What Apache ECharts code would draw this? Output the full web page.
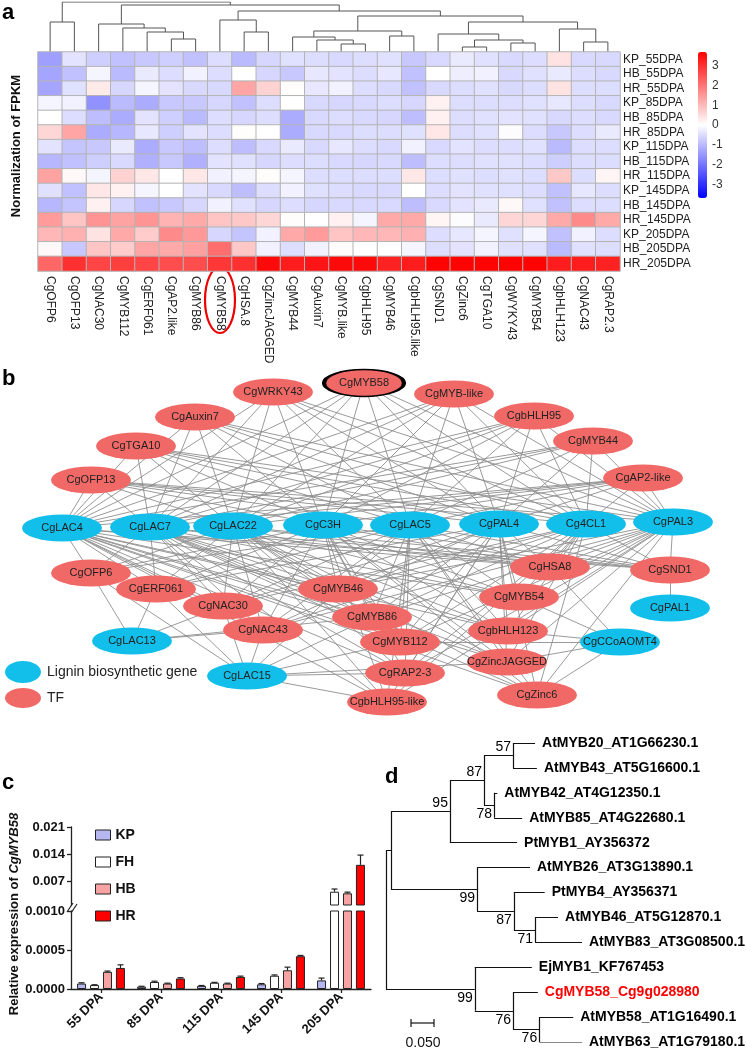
<!DOCTYPE html>
<html>
<head>
<meta charset="utf-8">
<script src="https://cdn.jsdelivr.net/npm/echarts@6/dist/echarts.min.js"></script>
<style>
  html, body { margin: 0; padding: 0; background: #fff; }
  #main { width: 746px; height: 1051px; }
</style>
</head>
<body>
<div id="main"></div>
<script>
var FONT = '"Liberation Sans", Arial, sans-serif';

// ---------- panel a: heatmap ----------
var genes = ['CgOFP6', 'CgOFP13', 'CgNAC30', 'CgMYB112', 'CgERF061', 'CgAP2.like', 'CgMYB86', 'CgMYB58',
  'CgHSA.8', 'CgZincJAGGED', 'CgMYB44', 'CgAuxin7', 'CgMYB.like', 'CgbHLH95', 'CgMYB46', 'CgbHLH95.like',
  'CgSND1', 'CgZinc6', 'CgTGA10', 'CgWYKY43', 'CgMYB54', 'CgbHLH123', 'CgNAC43', 'CgRAP2.3'];
var samples = ['KP_55DPA', 'HB_55DPA', 'HR_55DPA', 'KP_85DPA', 'HB_85DPA', 'HR_85DPA', 'KP_115DPA', 'HB_115DPA',
  'HR_115DPA', 'KP_145DPA', 'HB_145DPA', 'HR_145DPA', 'KP_205DPA', 'HB_205DPA', 'HR_205DPA'];
var fpkmZ = [
  [-1.4, -0.4, -0.7, -0.9, -0.8, -0.7, -0.9, -0.5, -1.0, -0.6, -0.45, -0.5, -0.55, -0.5, -0.45, -0.8, -0.55, -0.3, -0.45, -0.55, -0.5, 0.4, -0.55, -0.55],
  [-1.3, -0.9, -0.15, -1.0, -0.3, -0.5, -0.2, -0.5, 0, -0.6, -0.8, -0.35, -0.4, -0.5, -0.35, -0.9, 0, -0.25, -0.2, -0.55, -0.45, -0.3, -0.5, -0.55],
  [-1.3, -0.45, 0.3, -0.6, -0.15, -0.4, -0.55, -0.55, 1.3, 0.65, 0.05, -0.35, -0.2, -0.5, -0.55, -0.9, -0.55, -0.5, -0.45, -0.55, -0.5, 0.4, -0.5, -0.5],
  [-0.15, -0.2, -1.6, -1.0, -1.2, -0.8, -0.8, -0.6, -0.9, -0.5, 0, -0.55, -0.6, -0.55, -0.5, -0.6, 0.2, -0.5, -0.5, -0.5, -0.45, -0.35, -0.5, -0.55],
  [0, -0.5, -0.95, -1.2, -0.4, -0.7, -1.0, -0.5, -0.6, -0.5, -1.2, -0.55, -0.5, -0.55, -0.6, -0.95, 0.2, -0.5, -0.45, -0.4, -0.45, -0.55, -0.5, -0.55],
  [0.6, 1.3, -1.2, -1.05, -0.35, -0.7, -0.4, -0.5, 0.05, 0, -1.2, -0.55, -0.55, -0.5, -0.5, -0.45, 0.35, -0.5, -0.45, -0.05, -0.5, -0.8, -0.5, -0.3],
  [-0.4, -0.85, -0.8, -0.3, -1.2, -0.8, -0.95, -0.5, -0.95, -0.55, -0.3, -0.55, -0.35, -0.5, -0.55, -0.2, -0.55, -0.4, -0.5, -0.5, -0.45, -1.0, -0.5, -0.5],
  [-1.05, -0.9, -0.7, -0.55, -1.15, -0.8, -1.15, -0.4, -0.45, -0.6, -0.5, -0.5, -0.55, -0.6, -0.55, -0.95, -0.5, -0.5, -0.45, -0.45, -0.5, -0.7, -0.5, -0.5],
  [1.35, 0.1, -0.15, 0.65, 0.35, 0, 0.35, -0.2, -0.15, 0.05, -0.15, -0.5, -0.5, -0.5, -0.5, 0.35, -0.5, -0.45, -0.5, -0.45, -0.5, 0.8, -0.5, 0.15],
  [-0.45, -0.9, 0.35, 0.2, -0.15, 0, -0.4, -0.55, -0.95, -0.5, -0.2, -0.45, -0.5, -0.55, -0.55, 0, -0.5, -0.4, -0.45, -0.45, -0.5, -0.9, -0.35, -0.5],
  [-1.05, -0.85, 0.2, -0.6, -0.9, -0.8, -0.6, -0.2, -0.45, -0.6, -0.5, -0.6, -0.55, -0.55, -0.55, -0.95, -0.55, -0.4, -0.3, 0.1, -0.45, -0.9, -0.5, -0.5],
  [1.45, 0.85, 1.55, 1.35, 1.55, 1.1, 1.25, 0.85, 0.8, 0.6, 0.05, 0, 0.2, -0.15, 1.25, 1.25, 0.15, -0.05, -0.3, 0.6, 0.6, 1.25, 1.7, 1.25],
  [1.05, 1.15, 0.4, 1.25, 0.75, 1.7, 1.5, -0.6, -0.85, -0.2, 1.25, 1.45, 0.85, 1.05, 1.05, 1.15, -0.5, -0.35, -0.15, -0.45, -0.15, -0.9, -0.2, -0.5],
  [0.1, -0.8, 0.85, 0.75, 1.3, 1.25, 1.4, 2.1, 0.8, -0.2, -0.5, -0.2, 0.05, 0, 0, -0.15, -0.5, -0.4, -0.2, -0.45, -0.45, -1.0, -0.45, -0.5],
  [2.2, 3.0, 2.7, 2.8, 2.7, 2.6, 2.6, 2.9, 3.0, 3.55, 3.3, 3.4, 3.55, 3.55, 3.2, 3.3, 3.65, 3.65, 3.65, 3.65, 3.65, 3.3, 3.3, 3.2]
];
// column dendrogram: [merge height, left, right], leaves are column indices
var geneTree = [50, [30, 0, 1],
  [47, [28, 2, [24, 3, [20, 4, [13, 5, 6]]]],
    [41, [32, 7, [20, 8, 9]],
      [36, [21, [15, 10, [12, 11, [8, 12, 13]]], [16, 14, 15]],
        [30, [18, 16, [12, [5, 17, 18], [9, 19, 20]]], [23, 21, [10, 22, 23]]]]]]];
var scaleTicks = [-3, -2, -1, 0, 1, 2, 3];

// ---------- panel b: network ----------
var ligninGenes = ['CgLAC4', 'CgLAC7', 'CgLAC22', 'CgC3H', 'CgLAC5', 'CgPAL4', 'Cg4CL1', 'CgPAL3',
  'CgLAC13', 'CgLAC15', 'CgPAL1', 'CgCCoAOMT4'];
var topRow = ['CgLAC4', 'CgLAC7', 'CgLAC22', 'CgC3H', 'CgLAC5', 'CgPAL4', 'Cg4CL1', 'CgPAL3'];
var tfTargets = {
  'CgMYB58': topRow,
  'CgWRKY43': topRow,
  'CgMYB-like': topRow,
  'CgbHLH95': topRow,
  'CgMYB44': ['CgLAC4', 'CgLAC7', 'CgLAC22', 'CgLAC5', 'CgPAL4', 'Cg4CL1', 'CgPAL3'],
  'CgAP2-like': topRow,
  'CgAuxin7': topRow,
  'CgTGA10': topRow,
  'CgOFP13': topRow,
  'CgOFP6': ['CgLAC4', 'CgLAC7', 'CgLAC22', 'CgC3H', 'CgLAC5', 'CgLAC13', 'CgLAC15'],
  'CgERF061': ['CgLAC4', 'CgLAC7', 'CgLAC22', 'CgC3H', 'CgLAC5', 'CgPAL4', 'CgLAC13', 'CgLAC15'],
  'CgNAC30': ['CgLAC4', 'CgLAC7', 'CgLAC22', 'CgC3H', 'CgLAC5', 'CgPAL4', 'Cg4CL1', 'CgLAC13', 'CgLAC15'],
  'CgNAC43': topRow.concat(['CgLAC13', 'CgLAC15']),
  'CgMYB46': topRow.concat(['CgLAC15']),
  'CgMYB86': topRow.concat(['CgLAC13', 'CgLAC15']),
  'CgMYB112': topRow.concat(['CgLAC15', 'CgCCoAOMT4']),
  'CgRAP2-3': topRow.concat(['CgLAC15']),
  'CgbHLH95-like': topRow.concat(['CgLAC15']),
  'CgHSA8': topRow.concat(['CgCCoAOMT4']),
  'CgMYB54': topRow.concat(['CgCCoAOMT4']),
  'CgbHLH123': topRow.concat(['CgCCoAOMT4']),
  'CgZincJAGGED': topRow.concat(['CgLAC15', 'CgCCoAOMT4']),
  'CgZinc6': topRow.concat(['CgCCoAOMT4']),
  'CgSND1': topRow.concat(['CgPAL1'])
};
// node layout (exported network coordinates)
var nodeLayout = {
  'CgWRKY43': [273, 392], 'CgMYB58': [364, 383], 'CgMYB-like': [454, 394], 'CgbHLH95': [534, 416],
  'CgMYB44': [593, 441], 'CgAP2-like': [643, 478], 'CgAuxin7': [195, 417], 'CgTGA10': [136, 446],
  'CgOFP13': [91, 480], 'CgLAC4': [62, 528], 'CgLAC7': [150, 527], 'CgLAC22': [233, 526],
  'CgC3H': [323, 525], 'CgLAC5': [410, 525], 'CgPAL4': [499, 524], 'Cg4CL1': [586, 524],
  'CgPAL3': [673, 522], 'CgOFP6': [91, 573], 'CgERF061': [156, 589], 'CgNAC30': [223, 606],
  'CgMYB46': [338, 589], 'CgHSA8': [550, 567], 'CgSND1': [670, 570], 'CgMYB54': [519, 597],
  'CgPAL1': [670, 608], 'CgMYB86': [372, 617], 'CgNAC43': [263, 630], 'CgMYB112': [400, 642],
  'CgbHLH123': [508, 631], 'CgZincJAGGED': [507, 662], 'CgRAP2-3': [405, 673], 'CgLAC15': [247, 676],
  'CgbHLH95-like': [387, 702], 'CgZinc6': [537, 695], 'CgLAC13': [132, 641], 'CgCCoAOMT4': [620, 642]
};

// ---------- panel c: qPCR ----------
var stages = ['55 DPA', '85 DPA', '115 DPA', '145 DPA', '205 DPA'];
var groups = ['KP', 'FH', 'HB', 'HR'];
var kpExpr = [0.00007, 0.00003, 0.00004, 0.00006, 0.00011];
var fhExpr = [0.00005, 0.00009, 0.00008, 0.00017, 0.0044];
var hbExpr = [0.00022, 0.00007, 0.00007, 0.00024, 0.0040];
var hrExpr = [0.00027, 0.000135, 0.000155, 0.00042, 0.0113];
var kpErr = [0.00001, 0.000005, 0.000005, 0.00001, 0.00003];
var fhErr = [0.000005, 0.00001, 0.000005, 0.00001, 0.0007];
var hbErr = [0.00001, 0.000005, 0.000005, 0.00004, 0.0003];
var hrErr = [0.00004, 0.00001, 0.00001, 0.00001, 0.0025];
var lowTicks = [0, 0.0005, 0.001];
var highTicks = [0.007, 0.014, 0.021];

// ---------- panel d: phylogeny (branch lengths, bootstrap) ----------
var phylo = { children: [
  { bl: 0.011, children: [
    { bl: 0.128, boot: 95, up: true, children: [
      { bl: 0.074, boot: 87, up: true, children: [
        { bl: 0.063, boot: 57, up: true, children: [
          { bl: 0.048, name: 'AtMYB20_AT1G66230.1' }, { bl: 0.052, name: 'AtMYB43_AT5G16600.1' }] },
        { bl: 0.022, boot: 78, children: [
          { bl: 0.007, name: 'AtMYB42_AT4G12350.1' }, { bl: 0.061, name: 'AtMYB85_AT4G22680.1' }] }] },
      { bl: 0.146, name: 'PtMYB1_AY356372' }] },
    { bl: 0.187, boot: 99, children: [
      { bl: 0.115, name: 'AtMYB26_AT3G13890.1' },
      { bl: 0.080, boot: 87, children: [
        { bl: 0.067, name: 'PtMYB4_AY356371' },
        { bl: 0.046, boot: 71, children: [
          { bl: 0.050, name: 'AtMYB46_AT5G12870.1' }, { bl: 0.102, name: 'AtMYB83_AT3G08500.1' }] }] }] }] },
  { bl: 0.193, boot: 99, children: [
    { bl: 0.124, name: 'EjMYB1_KF767453' },
    { bl: 0.083, boot: 76, children: [
      { bl: 0.054, name: 'CgMYB58_Cg9g028980', hit: true },
      { bl: 0.057, boot: 76, children: [
        { bl: 0.074, name: 'AtMYB58_AT1G16490.1' }, { bl: 0.093, name: 'AtMYB63_AT1G79180.1' }] }] }] }] };

// ================= build =================
var heatData = [];
fpkmZ.forEach(function (row, r) {
  row.forEach(function (v, c) { heatData.push([c, r, v]); });
});

var dendroSegs = [];
function walkDendro(node) {
  if (typeof node === 'number') return { x: node, h: 0 };
  var l = walkDendro(node[1]), r = walkDendro(node[2]);
  dendroSegs.push({ coords: [[l.x, l.h], [l.x, node[0]], [r.x, node[0]], [r.x, r.h]] });
  return { x: (l.x + r.x) / 2, h: node[0] };
}
walkDendro(geneTree);

var netNodes = [], netLinks = [];
Object.keys(nodeLayout).forEach(function (name) {
  var isLig = ligninGenes.indexOf(name) >= 0;
  var node = {
    name: name, value: nodeLayout[name],
    itemStyle: { color: isLig ? '#12bfea' : '#f06966' }
  };
  if (name === 'CgMYB58') node.itemStyle = { color: '#f06966', borderColor: '#000', borderWidth: 2.5 };
  netNodes.push(node);
});
Object.keys(tfTargets).forEach(function (tf) {
  tfTargets[tf].forEach(function (g) { netLinks.push({ source: tf, target: g }); });
});

// phylogeny layout
var leafCount = 0, treeSegs = [], leafPts = [], bootPts = [];
function layoutTree(node, x0) {
  node.x = x0 + (node.bl || 0);
  if (!node.children) { node.y = leafCount++; leafPts.push(node); return; }
  node.children.forEach(function (ch) { layoutTree(ch, node.x); });
  var first = node.children[0], last = node.children[node.children.length - 1];
  node.y = (first.y + last.y) / 2;
  treeSegs.push({ coords: [[node.x, first.y], [node.x, last.y]] });
  node.children.forEach(function (ch) { treeSegs.push({ coords: [[node.x, ch.y], [ch.x, ch.y]] }); });
  if (node.boot) bootPts.push(node);
}
layoutTree(phylo, 0);

function renderLeaf(params, api) {
  var leaf = leafPts[params.dataIndex];
  var p = api.coord([api.value(0), api.value(1)]);
  return { type: 'text', x: p[0] + 7, y: p[1],
    style: { text: leaf.name, font: 'bold 14px ' + FONT, fill: leaf.hit ? '#ff0000' : '#000',
      verticalAlign: 'middle', align: 'left' } };
}
function renderBoot(params, api) {
  var n = bootPts[params.dataIndex];
  var p = api.coord([api.value(0), api.value(1)]);
  return { type: 'text', x: p[0] - 2, y: p[1] + (n.up ? -8 : 9),
    style: { text: String(n.boot), font: '14px ' + FONT, fill: '#000',
      verticalAlign: 'middle', align: 'right' } };
}

var exprSets = [kpExpr, fhExpr, hbExpr, hrExpr];
var errSets = [kpErr, fhErr, hbErr, hrErr];
var barColors = ['#b6b6f0', '#ffffff', '#f7a3a3', '#ff0000'];
var LOW_MAX = 0.001;
var errLow = [], errHigh = [];
exprSets.forEach(function (set, g) {
  set.forEach(function (v, i) {
    (v > LOW_MAX ? errHigh : errLow).push([i, v, errSets[g][i], g]);
  });
});
function renderErr(params, api) {
  var top = api.coord([api.value(0), api.value(1)]);
  var tip = api.coord([api.value(0), api.value(1) + api.value(2)]);
  var x = top[0] + (api.value(3) - 1.5) * 13;
  var st = { stroke: '#222', lineWidth: 1.2 };
  return { type: 'group', children: [
    { type: 'line', shape: { x1: x, y1: top[1], x2: x, y2: tip[1] }, style: st },
    { type: 'line', shape: { x1: x - 3, y1: tip[1], x2: x + 3, y2: tip[1] }, style: st }
  ] };
}

var barSeries = [];
groups.forEach(function (name, g) {
  var common = {
    type: 'bar', name: name, barWidth: 9, barGap: '44%', clip: true, silent: true,
    itemStyle: { color: barColors[g], borderColor: '#222', borderWidth: 1 }
  };
  barSeries.push(Object.assign({}, common, { xAxisIndex: 5, yAxisIndex: 5, data: exprSets[g] }));
  barSeries.push(Object.assign({}, common, {
    xAxisIndex: 4, yAxisIndex: 4,
    data: exprSets[g].map(function (v) { return v > LOW_MAX ? v : '-'; })
  }));
});

var axisBlack = { show: true, lineStyle: { color: '#222', width: 1.3 } };
var boldLbl = { fontWeight: 'bold', fontSize: 13, color: '#111' };

var chart = echarts.init(document.getElementById('main'));
chart.setOption({
  animation: false,
  backgroundColor: '#fff',
  textStyle: { fontFamily: FONT },
  grid: [
    { left: 38, top: 2, width: 582, height: 50 },          // 0 dendrogram
    { left: 38, top: 52, width: 582, height: 219 },        // 1 heatmap
    { left: 698, top: 52, width: 9, height: 146 },         // 2 colour scale labels
    { left: 0, top: 0, width: 746, height: 1051 },         // 3 network
    { left: 71, top: 827, width: 300, height: 78 },        // 4 bars upper
    { left: 71, top: 911, width: 300, height: 78 },        // 5 bars lower
    { left: 386, top: 743, width: 230, height: 299 }       // 6 tree
  ],
  xAxis: [
    { gridIndex: 0, type: 'value', min: -0.5, max: 23.5, show: false },
    { gridIndex: 1, type: 'category', data: genes, position: 'bottom',
      axisLine: { show: false }, axisTick: { show: false }, splitArea: { show: false },
      axisLabel: { rotate: -90, interval: 0, fontSize: 12, color: '#222', margin: 5 } },
    { gridIndex: 2, type: 'value', show: false },
    { gridIndex: 3, type: 'value', min: 0, max: 746, show: false },
    { gridIndex: 4, type: 'category', data: stages, show: false },
    { gridIndex: 5, type: 'category', data: stages, axisLine: axisBlack,
      axisTick: { show: true, alignWithLabel: true, length: 4, lineStyle: { color: '#222', width: 1.3 } },
      axisLabel: Object.assign({ rotate: 45, interval: 0, margin: 6 }, boldLbl) },
    { gridIndex: 6, type: 'value', min: 0, max: 0.5, show: false }
  ],
  yAxis: [
    { gridIndex: 0, type: 'value', min: 0, max: 50, show: false },
    { gridIndex: 1, type: 'category', data: samples, inverse: true, position: 'right',
      axisLine: { show: false }, axisTick: { show: false },
      axisLabel: { interval: 0, fontSize: 12, color: '#222', margin: 3 } },
    { gridIndex: 2, type: 'value', min: -3.7, max: 3.7, position: 'right',
      axisLine: { show: false }, axisTick: { show: false }, splitLine: { show: false },
      axisLabel: { customValues: scaleTicks, fontSize: 12, color: '#333', margin: 5 } },
    { gridIndex: 3, type: 'value', min: 0, max: 1051, inverse: true, show: false },
    { gridIndex: 4, type: 'value', min: 0.001, max: 0.021, axisLine: axisBlack, splitLine: { show: false },
      axisTick: { show: true, customValues: highTicks, length: 4, lineStyle: { color: '#222', width: 1.3 } },
      axisLabel: Object.assign({ customValues: highTicks, margin: 6,
        formatter: function (v) { return v.toFixed(3); } }, boldLbl) },
    { gridIndex: 5, type: 'value', min: 0, max: 0.001, axisLine: axisBlack, splitLine: { show: false },
      axisTick: { show: true, customValues: lowTicks, length: 4, lineStyle: { color: '#222', width: 1.3 } },
      axisLabel: Object.assign({ customValues: lowTicks, margin: 6,
        formatter: function (v) { return v.toFixed(4); } }, boldLbl) },
    { gridIndex: 6, type: 'value', min: 0, max: 12, inverse: true, show: false }
  ],
  visualMap: {
    type: 'continuous', seriesIndex: 1, min: -3.7, max: 3.7, calculable: false,
    left: 698, top: 52, padding: 0, itemWidth: 9, itemHeight: 146, hoverLink: false,
    inRange: { color: ['#0000ff', '#ffffff', '#ff0000'] }
  },
  legend: {
    left: 90, top: 823, orient: 'vertical', itemWidth: 15, itemHeight: 10, itemGap: 13,
    selectedMode: false, icon: 'rect',
    textStyle: { fontWeight: 'bold', fontSize: 14, color: '#111' },
    data: groups.map(function (n, g) {
      return { name: n, itemStyle: { color: barColors[g], borderColor: '#222', borderWidth: 1 } };
    })
  },
  series: [
    { type: 'lines', coordinateSystem: 'cartesian2d', xAxisIndex: 0, yAxisIndex: 0, polyline: true,
      silent: true, data: dendroSegs, lineStyle: { color: '#555', width: 1, opacity: 1 } },
    { type: 'heatmap', xAxisIndex: 1, yAxisIndex: 1, data: heatData, silent: true,
      itemStyle: { borderColor: '#b4b4b4', borderWidth: 1 } },
    { type: 'graph', coordinateSystem: 'cartesian2d', xAxisIndex: 3, yAxisIndex: 3, silent: true,
      symbol: 'circle', symbolSize: [80, 27], data: netNodes, links: netLinks,
      lineStyle: { color: '#8e8e8e', width: 0.9, opacity: 1 },
      label: { show: true, position: 'inside', fontSize: 11, color: '#222' } }
  ].concat(barSeries).concat([
    { type: 'custom', xAxisIndex: 5, yAxisIndex: 5, renderItem: renderErr, data: errLow, silent: true,
      encode: { x: 0, y: 1 }, z: 5 },
    { type: 'custom', xAxisIndex: 4, yAxisIndex: 4, renderItem: renderErr, data: errHigh, silent: true,
      encode: { x: 0, y: 1 }, z: 5 },
    { type: 'lines', coordinateSystem: 'cartesian2d', xAxisIndex: 6, yAxisIndex: 6, silent: true,
      data: treeSegs, lineStyle: { color: '#111', width: 1.2, opacity: 1 } },
    { type: 'custom', xAxisIndex: 6, yAxisIndex: 6, silent: true, renderItem: renderLeaf,
      encode: { x: 0, y: 1 }, data: leafPts.map(function (n) { return [n.x, n.y]; }) },
    { type: 'custom', xAxisIndex: 6, yAxisIndex: 6, silent: true, renderItem: renderBoot,
      encode: { x: 0, y: 1 }, data: bootPts.map(function (n) { return [n.x, n.y]; }) }
  ]),
  graphic: [
    { type: 'text', left: 2, top: 2, style: { text: 'a', font: 'bold 22px ' + FONT, fill: '#000' } },
    { type: 'text', left: 2, top: 368, style: { text: 'b', font: 'bold 22px ' + FONT, fill: '#000' } },
    { type: 'text', left: 2, top: 772, style: { text: 'c', font: 'bold 22px ' + FONT, fill: '#000' } },
    { type: 'text', left: 385, top: 766, style: { text: 'd', font: 'bold 22px ' + FONT, fill: '#000' } },
    { type: 'text', x: 16, y: 146, rotation: Math.PI / 2,
      style: { text: 'Normalization of FPKM', font: 'bold 13px ' + FONT, fill: '#111',
        align: 'center', verticalAlign: 'middle' } },
    { type: 'ellipse', shape: { cx: 220, cy: 300, rx: 15, ry: 33 },
      style: { fill: 'none', stroke: '#ee0000', lineWidth: 2.2 } },
    // network legend
    { type: 'ellipse', shape: { cx: 23, cy: 672, rx: 18, ry: 11 }, style: { fill: '#12bfea' } },
    { type: 'ellipse', shape: { cx: 23, cy: 698, rx: 18, ry: 10 }, style: { fill: '#f06966' } },
    { type: 'text', x: 47, y: 672, style: { text: 'Lignin biosynthetic gene', font: '14px ' + FONT,
      fill: '#222', verticalAlign: 'middle' } },
    { type: 'text', x: 47, y: 698, style: { text: 'TF', font: '14px ' + FONT, fill: '#222',
      verticalAlign: 'middle' } },
    // panel c axis title and break marks
    { type: 'text', x: 14, y: 914, rotation: Math.PI / 2,
      style: { text: '{n|Relative expression of }{i|CgMYB58}', align: 'center', verticalAlign: 'middle',
        rich: { n: { font: 'bold 13px ' + FONT, fill: '#111' },
          i: { font: 'italic bold 13px ' + FONT, fill: '#111' } } } },
    { type: 'line', shape: { x1: 67, y1: 912, x2: 73, y2: 903 }, style: { stroke: '#222', lineWidth: 1.2 } },
    { type: 'line', shape: { x1: 71, y1: 913, x2: 77, y2: 904 }, style: { stroke: '#222', lineWidth: 1.2 } },
    // tree scale bar
    { type: 'line', shape: { x1: 411, y1: 1023, x2: 434, y2: 1023 }, style: { stroke: '#111', lineWidth: 1.2 } },
    { type: 'line', shape: { x1: 411, y1: 1019, x2: 411, y2: 1027 }, style: { stroke: '#111', lineWidth: 1.2 } },
    { type: 'line', shape: { x1: 434, y1: 1019, x2: 434, y2: 1027 }, style: { stroke: '#111', lineWidth: 1.2 } },
    { type: 'text', x: 423, y: 1043, style: { text: '0.050', font: '14px ' + FONT, fill: '#111',
      align: 'center', verticalAlign: 'middle' } }
  ]
});
</script>
</body>
</html>
